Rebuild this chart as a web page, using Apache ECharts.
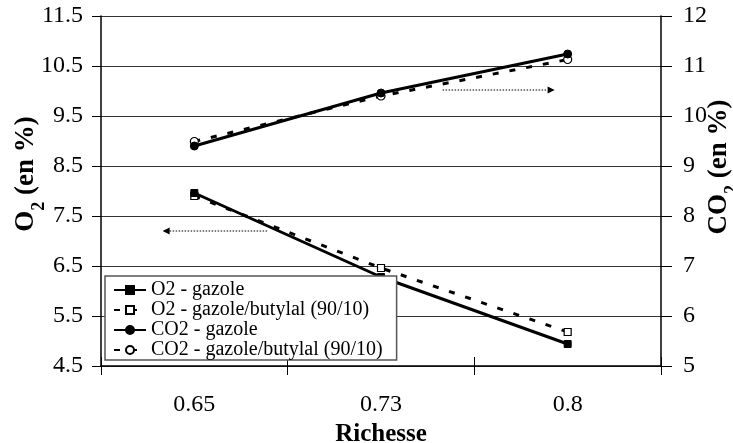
<!DOCTYPE html>
<html>
<head>
<meta charset="utf-8">
<script src="https://cdn.jsdelivr.net/npm/echarts@6/dist/echarts.min.js"></script>
<style>
html,body{margin:0;padding:0;background:#fff;}
#chart{width:733px;height:443px;}
</style>
</head>
<body>
<div id="chart"></div>
<script>
// ---- data ----
const categories = ['0.65', '0.73', '0.8'];
const o2Gazole = [7.96, 6.28, 4.94];
const o2Butylal = [7.90, 6.46, 5.18];
const co2Gazole = [9.40, 10.46, 11.24];
const co2Butylal = [9.49, 10.40, 11.13];
const seriesNames = ['O2 - gazole', 'O2 - gazole/butylal (90/10)', 'CO2 - gazole', 'CO2 - gazole/butylal (90/10)'];
const leftAxisRange = [4.5, 11.5];
const rightAxisRange = [5, 12];
const axisStep = 1;
// arrows: [categoryPosition, value]
const arrowO2 = { from: [0.39, 7.2], to: [-0.17, 7.2] };
const arrowCO2 = { from: [1.33, 10.52], to: [1.93, 10.52] };

const FONT = "'Liberation Serif', 'Times New Roman', serif";
const chart = echarts.init(document.getElementById('chart'), null, { renderer: 'canvas' });

const solid = { color: '#000', width: 3, type: 'solid' };
const dashed = { color: '#000', width: 3, type: [6, 11] };

const titleRich = {
  b: { fontFamily: FONT, fontSize: 27, fontWeight: 'bold', color: '#000', verticalAlign: 'bottom', lineHeight: 30 },
  s: { fontFamily: FONT, fontSize: 18, fontWeight: 'bold', color: '#000', verticalAlign: 'bottom', lineHeight: 23, padding: [0, 0, -8, 0] }
};

const option = {
  animation: false,
  backgroundColor: '#fff',
  textStyle: { fontFamily: FONT, color: '#000' },
  grid: { left: 101, right: 72, top: 16, bottom: 77, containLabel: false, outerBoundsMode: 'none' },
  legend: {
    orient: 'vertical',
    left: 105, top: 276,
    padding: [4, 14, 0, 8],
    itemGap: 0,
    itemWidth: 32, itemHeight: 10,
    backgroundColor: '#fff',
    borderColor: '#555', borderWidth: 1.5,
    borderRadius: 0,
    textStyle: { fontFamily: FONT, fontSize: 20, color: '#000' },
    data: seriesNames
  },
  xAxis: [{
    type: 'category', data: categories, boundaryGap: true, position: 'bottom',
    axisLine: { show: true, lineStyle: { color: '#000', width: 1.5 } },
    axisTick: { show: true, inside: false, length: 9, lineStyle: { color: '#000', width: 1 } },
    axisLabel: { fontFamily: FONT, fontSize: 24, color: '#000', margin: 27 },
    name: 'Richesse', nameLocation: 'middle', nameGap: 55,
    nameTextStyle: { fontFamily: FONT, fontSize: 25, fontWeight: 'bold', color: '#000' },
    splitLine: { show: false }
  }, {
    type: 'category', data: categories, boundaryGap: true, position: 'bottom', offset: 0,
    axisLine: { show: false },
    axisTick: { show: true, inside: true, length: 9, lineStyle: { color: '#000', width: 1 } },
    axisLabel: { show: false },
    splitLine: { show: false }
  }],
  yAxis: [{
    type: 'value', position: 'left',
    min: leftAxisRange[0], max: leftAxisRange[1], interval: axisStep,
    axisLine: { show: true, lineStyle: { color: '#000', width: 1.5 } },
    axisTick: { show: true, inside: false, length: 9, lineStyle: { color: '#000', width: 1 } },
    axisLabel: { fontFamily: FONT, fontSize: 24, color: '#000', margin: 18, formatter: v => v.toFixed(1) },
    splitLine: { show: true, lineStyle: { color: '#333', width: 1 } },
    name: '{b|O}{s|2}{b| (en %)}', nameLocation: 'middle', nameGap: 61, nameRotate: 90,
    nameMoveOverlap: false,
    nameTextStyle: { rich: titleRich, padding: [0, 0, 0, 34] }
  }, {
    type: 'value', position: 'right',
    min: rightAxisRange[0], max: rightAxisRange[1], interval: axisStep,
    axisLine: { show: true, lineStyle: { color: '#000', width: 1.5 } },
    axisTick: { show: true, inside: false, length: 11, lineStyle: { color: '#000', width: 1 } },
    axisLabel: { fontFamily: FONT, fontSize: 24, color: '#000', margin: 22 },
    splitLine: { show: false },
    name: '{b|CO}{s|2}{b| (en %)}', nameLocation: 'middle', nameGap: 42, nameRotate: 90,
    nameMoveOverlap: false,
    nameTextStyle: { rich: titleRich, padding: [0, 0, 0, 48] }
  }],
  series: [{
    name: seriesNames[0], type: 'line', xAxisIndex: 0, yAxisIndex: 0, data: o2Gazole,
    symbol: 'rect', symbolSize: 7, showAllSymbol: true,
    itemStyle: { color: '#000', borderColor: '#000', borderWidth: 1 },
    lineStyle: solid, z: 3
  }, {
    name: seriesNames[1], type: 'line', xAxisIndex: 0, yAxisIndex: 0, data: o2Butylal,
    symbol: 'rect', symbolSize: 7, showAllSymbol: true,
    itemStyle: { color: '#fff', borderColor: '#000', borderWidth: 1.2 },
    lineStyle: dashed, z: 2
  }, {
    name: seriesNames[2], type: 'line', xAxisIndex: 0, yAxisIndex: 1, data: co2Gazole,
    symbol: 'circle', symbolSize: 8, showAllSymbol: true,
    itemStyle: { color: '#000', borderColor: '#000', borderWidth: 1 },
    lineStyle: solid, z: 3
  }, {
    name: seriesNames[3], type: 'line', xAxisIndex: 0, yAxisIndex: 1, data: co2Butylal,
    symbol: 'circle', symbolSize: 8, showAllSymbol: true,
    itemStyle: { color: '#fff', borderColor: '#000', borderWidth: 1.2 },
    lineStyle: dashed, z: 2
  }]
};
chart.setOption(option);

function catToPx(pos) {
  const x0 = chart.convertToPixel({ xAxisIndex: 0 }, 0);
  const x1 = chart.convertToPixel({ xAxisIndex: 0 }, 1);
  return x0 + pos * (x1 - x0);
}
function arrowGraphic(a, yAxisIndex) {
  const xa = catToPx(a.from[0]), xb = catToPx(a.to[0]);
  const y = chart.convertToPixel({ yAxisIndex: yAxisIndex }, a.from[1]);
  const dir = xb > xa ? 1 : -1;
  const head = 7;
  return [{
    type: 'line', z: 10,
    shape: { x1: xa, y1: y, x2: xb - dir * head, y2: y },
    style: { stroke: '#000', lineWidth: 1.2, lineDash: [1.5, 1.5] }
  }, {
    type: 'polygon', z: 10,
    shape: { points: [[xb, y], [xb - dir * head, y - 3.5], [xb - dir * head, y + 3.5]] },
    style: { fill: '#000' }
  }];
}
chart.setOption({ graphic: arrowGraphic(arrowO2, 0).concat(arrowGraphic(arrowCO2, 1)) });
</script>
</body>
</html>
